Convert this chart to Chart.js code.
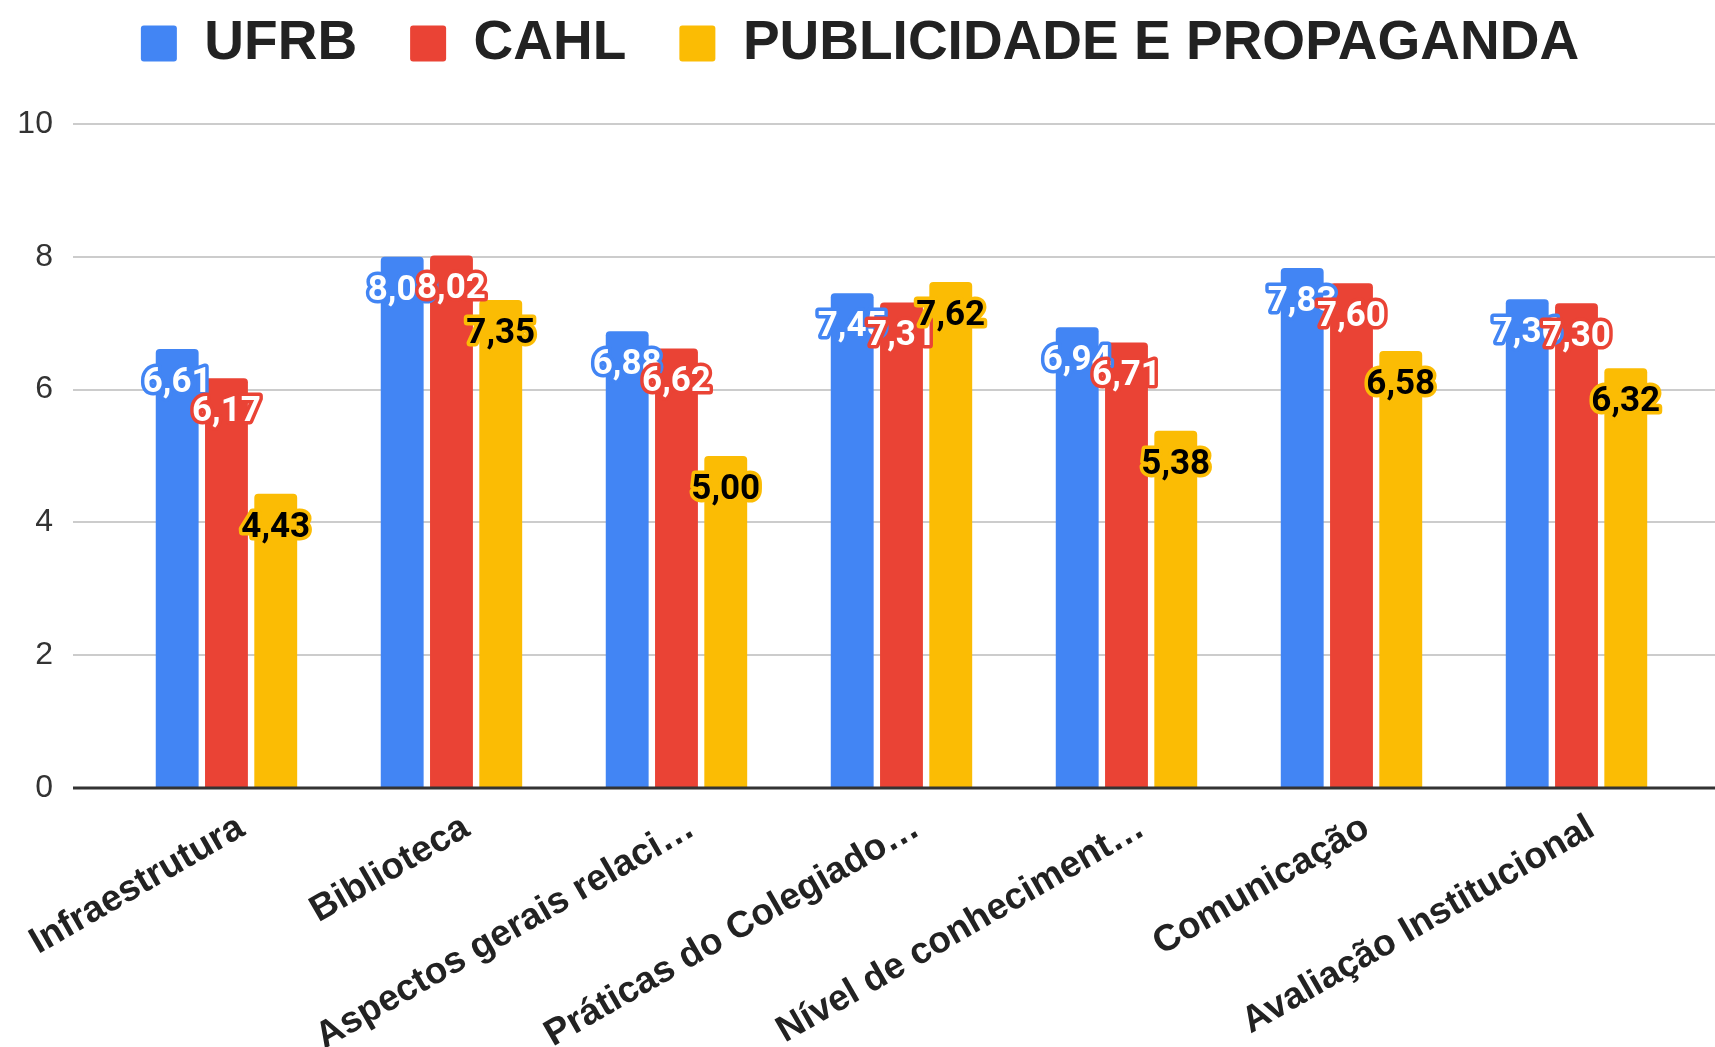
<!DOCTYPE html>
<html>
<head>
<meta charset="utf-8">
<script src="https://cdn.jsdelivr.net/npm/chart.js@4.4.1/dist/chart.umd.min.js"></script>
<style>
  html, body { margin: 0; padding: 0; background: #fff; }
</style>
</head>
<body>
<canvas id="myChart" width="1715" height="1047"></canvas>
<script>
const categories = ['Infraestrutura', 'Biblioteca', 'Aspectos gerais relaci…', 'Práticas do Colegiado…', 'Nível de conheciment…', 'Comunicação', 'Avaliação Institucional'];
const ufrb = [6.61, 8.00, 6.88, 7.45, 6.94, 7.83, 7.36];
const cahl = [6.17, 8.02, 6.62, 7.31, 6.71, 7.60, 7.30];
const publicidade = [4.43, 7.35, 5.00, 7.62, 5.38, 6.58, 6.32];
const yTicks = [0, 2, 4, 6, 8, 10];

const seriesColors = ['#4285F4', '#EA4335', '#FBBC04'];
const labelTextColors = ['#ffffff', '#ffffff', '#000000'];

// grid lines reach further left than the bars, so draw them by hand
const gridAndLabels = {
  id: 'gridAndLabels',
  beforeDatasetsDraw(chart) {
    const { ctx, scales: { y } } = chart;
    ctx.save();
    ctx.strokeStyle = '#cccccc';
    ctx.lineWidth = 2;
    yTicks.forEach(v => {
      if (v === 0) return;
      const py = Math.round(y.getPixelForValue(v));
      ctx.beginPath();
      ctx.moveTo(73, py);
      ctx.lineTo(chart.width, py);
      ctx.stroke();
    });
    ctx.restore();
  },
  afterDatasetsDraw(chart) {
    const { ctx, scales: { y } } = chart;
    ctx.save();
    // zero line
    const py0 = y.getPixelForValue(0);
    ctx.strokeStyle = '#333333';
    ctx.lineWidth = 3;
    ctx.beginPath();
    ctx.moveTo(73, py0);
    ctx.lineTo(chart.width, py0);
    ctx.stroke();

    // value labels
    ctx.font = 'bold 35px Roboto';
    ctx.textAlign = 'center';
    ctx.textBaseline = 'middle';
    ctx.lineJoin = 'round';
    chart.data.datasets.forEach((ds, i) => {
      chart.getDatasetMeta(i).data.forEach((bar, j) => {
        const txt = ds.data[j].toFixed(2).replace('.', ',');
        const ty = bar.y + 34;
        ctx.strokeStyle = seriesColors[i];
        ctx.lineWidth = 7;
        ctx.strokeText(txt, bar.x, ty);
        ctx.fillStyle = labelTextColors[i];
        ctx.fillText(txt, bar.x, ty);
      });
    });
    ctx.restore();
  }
};

const data = {
  labels: categories,
  datasets: [
    { label: 'UFRB', data: ufrb, backgroundColor: seriesColors[0], xAxisID: 'x', yAxisID: 'y' },
    { label: 'CAHL', data: cahl, backgroundColor: seriesColors[1], xAxisID: 'x', yAxisID: 'y' },
    { label: 'PUBLICIDADE E PROPAGANDA', data: publicidade, backgroundColor: seriesColors[2], xAxisID: 'x', yAxisID: 'y' },
  ],
};

// CONFIG
const config = {
  type: 'bar',
  data,
  options: {
    responsive: false,
    animation: false,
    datasets: {
      bar: {
        categoryPercentage: 0.657,
        barPercentage: 0.87,
        borderRadius: 4,
        borderWidth: 0,
      },
    },
    layout: {
      padding: { top: -37, left: 0, right: -5, bottom: 0 },
    },
    plugins: {
      tooltip: { enabled: false },
      legend: {
        position: 'top',
        labels: {
          font: { family: 'Liberation Sans', size: 55, weight: 'bold' },
          color: '#222222',
          boxWidth: 36,
          boxHeight: 36,
          padding: 53,
          useBorderRadius: true,
          borderRadius: 3,
        },
      },
    },
    scales: {
      x: {
        grid: { display: false },
        border: { display: false },
        ticks: {
          font: { family: 'Liberation Sans', size: 37, weight: 'bold' },
          color: '#222222',
          maxRotation: 30,
          minRotation: 30,
          autoSkip: false,
          padding: 10,
          labelOffset: 15,
        },
        afterFit(scale) { scale.height = 259; },
      },
      y: {
        min: 0,
        max: 10,
        grid: { display: false },
        border: { display: false },
        ticks: {
          stepSize: 2,
          font: { family: 'Liberation Sans', size: 32 },
          color: '#333333',
          padding: 53,
        },
        afterFit(scale) { scale.width = 113; },
      },
      // empty spacers around the plot
      spacerTop: {
        type: 'category',
        position: 'top',
        grid: { display: false },
        border: { display: false },
        ticks: { display: false },
        afterFit(scale) { scale.height = 43; },
      },
      spacerRight: {
        type: 'linear',
        position: 'right',
        grid: { display: false },
        border: { display: false },
        ticks: { display: false },
        afterFit(scale) { scale.width = 31; },
      },
    },
  },
  plugins: [gridAndLabels],
};

// RENDER
const myChart = new Chart(document.getElementById('myChart'), config);
</script>
</body>
</html>
